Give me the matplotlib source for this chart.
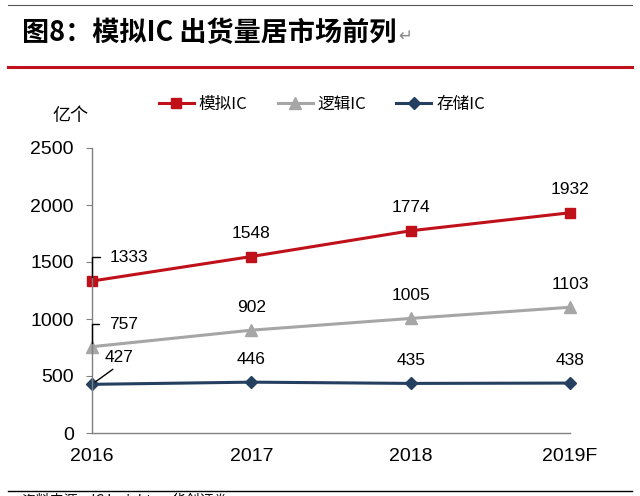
import matplotlib.pyplot as plt
from matplotlib.lines import Line2D

plt.rcParams['font.family'] = ['Liberation Sans', 'Noto Sans CJK SC', 'DejaVu Sans']

years = ['2016', '2017', '2018', '2019F']
analog = [1333, 1548, 1774, 1932]
logic = [757, 902, 1005, 1103]
memory = [427, 446, 435, 438]
names = ['模拟IC', '逻辑IC', '存储IC']

red = '#C0101A'
gray = '#A6A6A6'
navy = '#243F60'
cjk = ['Noto Sans CJK SC', 'DejaVu Sans']

fig = plt.figure(figsize=(6.4, 4.96), dpi=100)
W, H = 640, 496

def fx(px):
    return px / W

def fy(py):
    return 1 - py / H

# header lines and title
fig.add_artist(Line2D([fx(8), fx(632)], [fy(5), fy(5)], color='#555555', lw=0.8))
fig.add_artist(Line2D([fx(8), fx(632)], [fy(67), fy(67)], color=red, lw=2.2))
fig.text(fx(22), fy(33), '图8：模拟IC 出货量居市场前列', fontsize=19.5, fontweight='bold',
         family=cjk, va='center', ha='left')
fig.text(fx(398), fy(36), '↵', fontsize=12, color='#888888', family=['DejaVu Sans'],
         va='center', ha='left')

# bottom line and source (cut off)
fig.add_artist(Line2D([fx(8), fx(632)], [fy(491), fy(491)], color='black', lw=1.0))
fig.text(fx(22), fy(493), '资料来源：IC Insights，华创证券', fontsize=10,
         family=cjk, va='top', ha='left')

ax = fig.add_axes([fx(92), fy(433), fx(570) - fx(92), fy(148) - fy(433)])
x = list(range(len(years)))

ax.plot(x, analog, color=red, lw=2.2, marker='s', ms=7, label=names[0], clip_on=False)
ax.plot(x, logic, color=gray, lw=2.2, marker='^', ms=8, label=names[1], clip_on=False)
ax.plot(x, memory, color=navy, lw=2.2, marker='D', ms=6, label=names[2], clip_on=False)

ax.set_xlim(0, 3)
ax.set_ylim(0, 2500)
ax.set_yticks(range(0, 2501, 500))
ax.set_xticks(x)
ax.set_xticklabels(years, fontsize=14)
ax.tick_params(axis='y', labelsize=14, length=4, color='#808080', pad=9)
ax.tick_params(axis='x', length=0, pad=11)
for s in ['top', 'right']:
    ax.spines[s].set_visible(False)
for s in ['left', 'bottom']:
    ax.spines[s].set_color('#808080')
    ax.spines[s].set_linewidth(1.0)

# data labels
for series in (analog, logic, memory):
    for i in range(1, len(x)):
        ax.annotate(str(series[i]), (x[i], series[i]), xytext=(0, 11),
                    textcoords='offset points', ha='center', va='bottom', fontsize=12.5)

# 2016 labels with leader lines
lead = dict(arrowstyle='-', color='black', lw=1.0, shrinkA=0, shrinkB=3,
            connectionstyle='angle,angleA=0,angleB=90,rad=0')
ax.annotate('', (x[0], analog[0]), xytext=(6, 17), textcoords='offset points', arrowprops=lead)
ax.annotate(str(analog[0]), (x[0], analog[0]), xytext=(13, 17), textcoords='offset points',
            ha='left', va='center', fontsize=12.5)
ax.annotate('', (x[0], logic[0]), xytext=(5, 16), textcoords='offset points', arrowprops=lead)
ax.annotate(str(logic[0]), (x[0], logic[0]), xytext=(12, 16), textcoords='offset points',
            ha='left', va='center', fontsize=12.5)
ax.annotate(str(memory[0]), (x[0], memory[0]), xytext=(9, 14), textcoords='offset points',
            ha='left', va='bottom', fontsize=12.5,
            arrowprops=dict(arrowstyle='-', color='black', lw=1.0, shrinkA=2, shrinkB=3,
                            relpos=(0.5, 0)))

fig.text(fx(70), fy(116), '亿个', fontsize=13, family=cjk, ha='center', va='center')

leg = ax.legend(loc='center', bbox_to_anchor=(fx(322), fy(104)), bbox_transform=fig.transFigure,
                ncol=3, frameon=False, handlelength=2.1, columnspacing=1.8,
                handletextpad=0.3, prop={'family': cjk, 'size': 12})

fig.savefig('out.png', dpi=100)
